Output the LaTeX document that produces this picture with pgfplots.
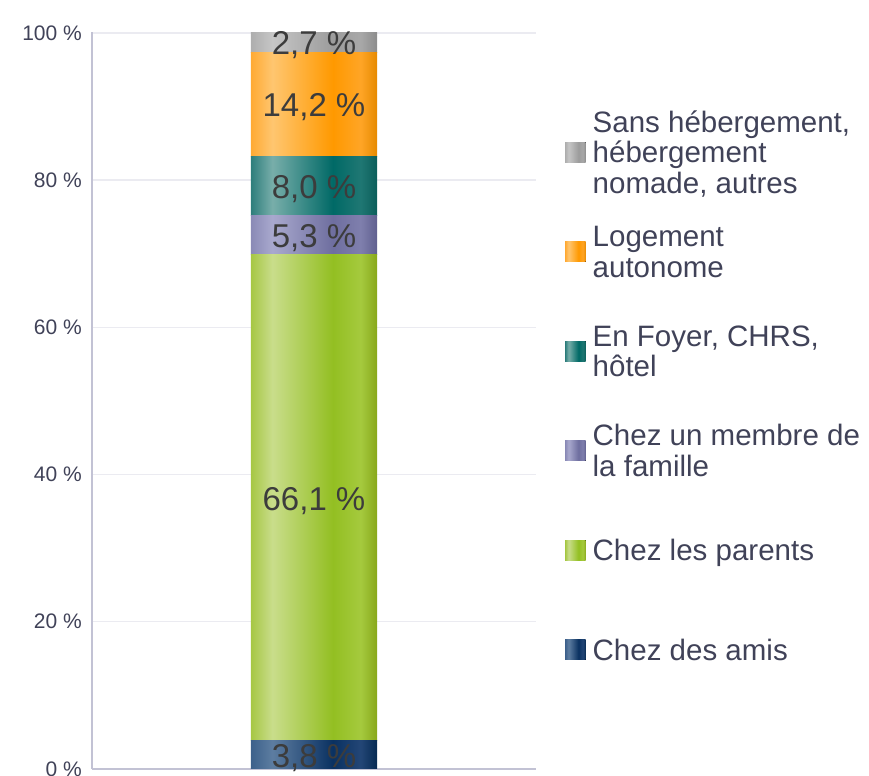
\documentclass[border=0pt]{standalone}
\usepackage{pgfplots}
\pgfplotsset{compat=1.18}
\usepackage{fontspec}
\setmainfont{Liberation Sans}

% text and axis colours
\definecolor{tickcol}{HTML}{404258}
\definecolor{lblcol}{HTML}{3C3C3C}
\definecolor{axcol}{HTML}{C2C2D4}
\definecolor{gridcol}{HTML}{EBEBF1}

% bar colours: edge, light, dark, right, right edge
\definecolor{grA}{HTML}{AEAEAE}\definecolor{grL}{HTML}{C6C6C6}\definecolor{grD}{HTML}{9C9C9C}\definecolor{grR}{HTML}{A8A8A8}\definecolor{grE}{HTML}{8C8C8C}
\definecolor{orA}{HTML}{FFAA33}\definecolor{orL}{HTML}{FFC670}\definecolor{orD}{HTML}{FF9900}\definecolor{orR}{HTML}{FFA526}\definecolor{orE}{HTML}{E68A00}
\definecolor{teA}{HTML}{2E7E7C}\definecolor{teL}{HTML}{78AEAA}\definecolor{teD}{HTML}{006966}\definecolor{teR}{HTML}{1F7773}\definecolor{teE}{HTML}{0C5E5A}
\definecolor{puA}{HTML}{8A8AB6}\definecolor{puL}{HTML}{A9A9CE}\definecolor{puD}{HTML}{6E6E9F}\definecolor{puR}{HTML}{7F7FAD}\definecolor{puE}{HTML}{60608F}
\definecolor{gnA}{HTML}{A6C744}\definecolor{gnL}{HTML}{C9DD8B}\definecolor{gnD}{HTML}{93BF22}\definecolor{gnR}{HTML}{A5CA3E}\definecolor{gnE}{HTML}{88A81B}
\definecolor{blA}{HTML}{3D618B}\definecolor{blL}{HTML}{5D7DA1}\definecolor{blD}{HTML}{0A3161}\definecolor{blR}{HTML}{234676}\definecolor{blE}{HTML}{062A52}

\newcommand\barshade[1]{%
  \pgfdeclarehorizontalshading{sh#1}{100bp}{color(0bp)=(#1A); color(25bp)=(#1A);
    color(33.5bp)=(#1L); color(57.5bp)=(#1D); color(68.5bp)=(#1R);
    color(75bp)=(#1E); color(100bp)=(#1E)}}
\barshade{gr}\barshade{or}\barshade{te}\barshade{pu}\barshade{gn}\barshade{bl}

% legend text: fixed row height, block centred on the row
\newcommand\leg[2]{\raisebox{#1}[60.35pt][39.15pt]{\parbox[t]{276pt}{\raggedright #2}}}

\begin{document}
\begin{tikzpicture}
\begin{axis}[
    at={(0pt,0pt)}, anchor=south west,
    scale only axis, width=444pt, height=736.9pt,
    xmin=-1, xmax=1, ymin=0, ymax=100.12,
    ybar stacked, bar width=0.5676,
    xtick=\empty, ytick={0,20,...,100},
    /pgf/number format/assume math mode=true,
    yticklabel={\pgfmathprintnumber{\tick}~\%},
    yticklabel style={font=\fontsize{21}{21}\selectfont, text=tickcol, inner sep=0pt, xshift=-10pt},
    major tick length=0pt,
    axis x line*=bottom, axis y line*=left,
    axis line style={draw=axcol, line width=2pt, -},
    ymajorgrids, grid style={draw=gridcol, line width=1.5pt},
    point meta=explicit symbolic,
    nodes near coords,
    every node near coord/.append style={font=\fontsize{33}{33}\selectfont, text=lblcol,
        anchor=center, yshift=-3pt},
    legend image code/.code={\fill[#1] (0pt,-10pt) rectangle (20.5pt,10pt);},
    reverse legend,
    legend cell align=left,
    legend style={at={(1.0653,0.9049)}, anchor=north west, draw=none, fill=none,
        inner sep=0pt, row sep=0pt, column sep=7pt,
        nodes={inner sep=0pt, text depth={}},
        font=\fontsize{29.5}{30.5}\selectfont, text=tickcol},
]
\addplot[draw=none, shade, shading=shbl] coordinates {(0,3.8) [3,8~\%]};
\addlegendentry{\leg{0pt}{Chez des amis}}
\addplot[draw=none, shade, shading=shgn] coordinates {(0,66.1) [66,1~\%]};
\addlegendentry{\leg{0pt}{Chez les parents}}
\addplot[draw=none, shade, shading=shpu] coordinates {(0,5.3) [5,3~\%]};
\addlegendentry{\leg{15.25pt}{Chez un membre de\\la famille}}
\addplot[draw=none, shade, shading=shte] coordinates {(0,8.0) [8,0~\%]};
\addlegendentry{\leg{15.25pt}{En Foyer, CHRS,\\hôtel}}
\addplot[draw=none, shade, shading=shor] coordinates {(0,14.2) [14,2~\%]};
\addlegendentry{\leg{15.25pt}{Logement\\autonome}}
\addplot[draw=none, shade, shading=shgr] coordinates {(0,2.7) [2,7~\%]};
\addlegendentry{\leg{30.5pt}{Sans hébergement,\\hébergement\\nomade, autres}}
\end{axis}
\pgfresetboundingbox
\path (-92pt,-7pt) rectangle (777pt,768.9pt);
\end{tikzpicture}
\end{document}
